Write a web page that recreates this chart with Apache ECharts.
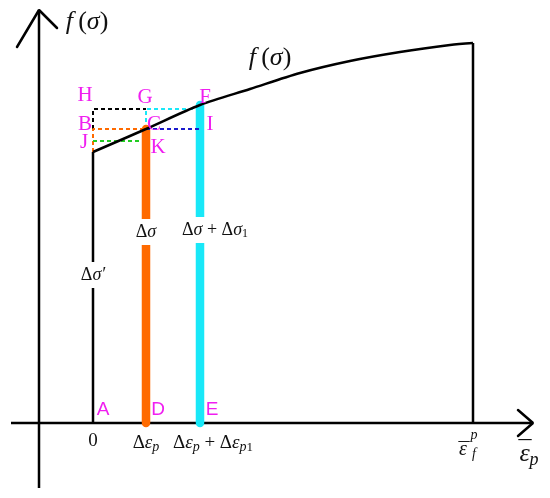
<!DOCTYPE html>
<html><head><meta charset="utf-8">
<script src="https://cdn.jsdelivr.net/npm/echarts@6/dist/echarts.min.js"></script>
<style>html,body{margin:0;padding:0;background:#fff}#c{width:550px;height:498px}</style>
</head><body><div id="c"></div>
<script>
// ---- data (strain units on x, stress units on y) ----
const curveStrain = [0, 53, 107, 157, 207, 257, 307, 357, 380];
const curveStress = [271, 294, 318, 334, 350, 362, 371, 378, 380];
const strainTicks = [0, 53, 107, 380];           // 0, Δε_p, Δε_p+Δε_p1, ε_f^p
const stressLevels = { J: 282, C: 294, G: 314, F: 318, start: 271 };
const axisXExtent = [-82, 440];
const axisYExtent = [-65, 413];
const yAxisAt = -54;
const barLabelStress = { prime: 148, orange: 191, cyan: 193 };

const [e0, eD, eE, eF] = strainTicks;
const S = stressLevels;

const MAG = '#f01ef0';
const ORANGE = '#ff6a00';
const CYAN = '#19e8f8';
const BLUE = '#1a1acc';
const GREEN = '#22cc22';

function seg(pts, color, width, dash, cap, z) {
  return { type: 'line', data: pts, symbol: 'none', silent: true, animation: false,
    z: z || 2, lineStyle: { color: color, width: width, type: dash ? [4, 3] : 'solid', cap: cap || 'butt' } };
}

const serif = 'Liberation Serif';
const ink = '#111';
const rich = {
  n: { fontFamily: serif, fontSize: 19, color: ink, lineHeight: 22, verticalAlign: 'middle' },
  i: { fontFamily: serif, fontStyle: 'italic', fontSize: 19, color: ink, lineHeight: 22, verticalAlign: 'middle' },
  sub: { fontFamily: serif, fontStyle: 'italic', fontSize: 14, color: ink, lineHeight: 14, verticalAlign: 'bottom' },
  subn: { fontFamily: serif, fontSize: 13, color: ink, lineHeight: 13, verticalAlign: 'bottom' },
  N: { fontFamily: serif, fontSize: 26, color: ink, lineHeight: 30, verticalAlign: 'middle' },
  I: { fontFamily: serif, fontStyle: 'italic', fontSize: 26, color: ink, lineHeight: 30, verticalAlign: 'middle' },
  SUB: { fontFamily: serif, fontStyle: 'italic', fontSize: 18, color: ink, lineHeight: 18, verticalAlign: 'bottom' },
  s: { fontFamily: serif, fontSize: 18, color: ink, lineHeight: 20, verticalAlign: 'middle' },
  si: { fontFamily: serif, fontStyle: 'italic', fontSize: 18, color: ink, lineHeight: 20, verticalAlign: 'middle' },
  ssub: { fontFamily: serif, fontSize: 12, color: ink, lineHeight: 12, verticalAlign: 'bottom' },
  e: { fontFamily: serif, fontStyle: 'italic', fontSize: 20, color: ink },
  t: { fontFamily: serif, fontStyle: 'italic', fontSize: 14, color: ink },
  bar: { fontFamily: serif, fontSize: 26, color: ink },
  bar2: { fontFamily: serif, fontSize: 22, color: ink },
  m: { fontFamily: serif, fontSize: 21, color: MAG },
  ms: { fontFamily: 'Liberation Sans', fontSize: 19, color: MAG }
};

function lbl(x, y, text, dx, dy, extra) {
  return { value: [x, y], label: Object.assign({ show: true, formatter: text, offset: [dx, dy],
    position: 'inside', align: 'center', verticalAlign: 'middle', rich: rich, opacity: 1 }, extra || {}) };
}
const whiteBg = { backgroundColor: '#fff', padding: [3, 1] };
const fSigma = '{I|f}{N|\u2009(}{I|σ}{N|)}';

const labels = [
  // point letters
  lbl(e0, S.G, '{m|H}', -8, -14), lbl(eD, S.G, '{m|G}', -1, -12), lbl(eE, S.F, '{m|F}', 5, -8),
  lbl(e0, S.C, '{m|B}', -8, -5), lbl(eD, S.C, '{m|C}', 8, -5), lbl(eE, S.C, '{m|I}', 10, -5),
  lbl(e0, S.J, '{m|J}', -9, 1), lbl(eD, S.J, '{m|K}', 12, 6),
  lbl(e0, 0, '{ms|A}', 10, -13), lbl(eD, 0, '{ms|D}', 12, -13), lbl(eE, 0, '{ms|E}', 12, -13),
  // tick labels
  lbl(e0, 0, '{n|0}', 0, 18),
  lbl(eD, 0, '{n|Δ}{i|ε}{sub|p}', 0, 20),
  lbl(eE, 0, '{n|Δ}{i|ε}{sub|p}{n| + Δ}{i|ε}{sub|p}{subn|1}', 13, 20),
  lbl(eF, 0, '{e|ε}', -10, 27), lbl(eF, 0, '{bar2|¯}', -9, 28),
  lbl(eF, 0, '{t|p}', 1, 12), lbl(eF, 0, '{t|f}', 1, 31),
  // axis labels
  lbl(axisXExtent[1], 0, '{I|ε}{SUB|p}', -4, 31), lbl(axisXExtent[1], 0, '{bar|¯}', -8, 28),
  lbl(yAxisAt, axisYExtent[1], fSigma, 48, 12),
  lbl(curveStrain[4], curveStress[4], fSigma, -30, -15),
  // bar labels
  lbl(e0, barLabelStress.prime, "{s|Δ}{si|σ′}", 0, 0, whiteBg),
  lbl(eD, barLabelStress.orange, '{s|Δ}{si|σ}', 0, 0, whiteBg),
  lbl(eE, barLabelStress.cyan, '{s|Δ}{si|σ}{s| + Δ}{si|σ}{ssub|1}', 15, 0, whiteBg)
];

const series = [
  // axes
  seg([[axisXExtent[0], 0], [axisXExtent[1], 0]], '#000', 2.5),
  seg([[yAxisAt, axisYExtent[0]], [yAxisAt, axisYExtent[1]]], '#000', 2.5),
  seg([[axisXExtent[1] - 15, 13], [axisXExtent[1], 0], [axisXExtent[1] - 15, -13]], '#000', 2.5, false, 'round'),
  seg([[yAxisAt - 22, axisYExtent[1] - 37], [yAxisAt, axisYExtent[1]], [yAxisAt + 18, axisYExtent[1] - 18]], '#000', 2.5, false, 'round'),
  // verticals at 0 and ε_f
  seg([[e0, 0], [e0, S.start]], '#000', 2.5),
  seg([[eF, 0], [eF, curveStress[curveStress.length - 1]]], '#000', 2.5),
  // bars
  seg([[eD, 0], [eD, S.C]], ORANGE, 8.5, false, 'round', 3),
  seg([[eE, 0], [eE, S.F]], CYAN, 8.5, false, 'round', 3),
  // dashed guides
  seg([[e0, S.C], [e0, S.G], [eD, S.G]], '#000', 2, true),
  seg([[e0, S.start], [e0, S.C], [eD, S.C]], ORANGE, 2, true),
  seg([[eD, S.C], [eD, S.G], [eE, S.G]], CYAN, 2, true),
  seg([[eD, S.C], [eE, S.C]], BLUE, 2, true, 'butt', 4),
  seg([[e0, S.J], [eD, S.J]], GREEN, 2, true),
  // the curve f(σ)
  { type: 'line', data: curveStrain.map((x, k) => [x, curveStress[k]]), smooth: 0.3, symbol: 'none',
    silent: true, animation: false, z: 5, lineStyle: { color: '#000', width: 2.5 } },
  // labels
  { type: 'scatter', data: labels, symbolSize: 1, silent: true, animation: false, z: 10,
    itemStyle: { color: 'rgba(0,0,0,0)', opacity: 1 } }
];

const chart = echarts.init(document.getElementById('c'));
chart.setOption({
  animation: false,
  backgroundColor: '#fff',
  grid: { left: 0, right: 0, top: 0, bottom: 0 },
  xAxis: { type: 'value', min: -93, max: 457, show: false },
  yAxis: { type: 'value', min: -75, max: 423, show: false },
  series: series
});
</script></body></html>
